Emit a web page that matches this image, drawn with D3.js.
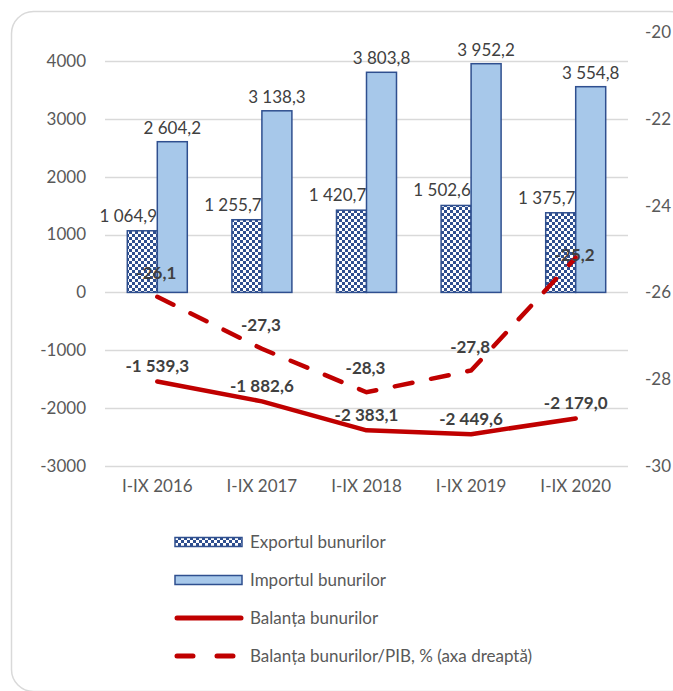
<!DOCTYPE html>
<html>
<head>
<meta charset="utf-8">
<script src="https://cdn.jsdelivr.net/npm/d3@7"></script>
<style>
  body { margin: 0; background: #fff; }
  svg text { font-family: Lato, "Liberation Sans", sans-serif; }
</style>
</head>
<body>
<svg id="chart"></svg>
<script>
// data
const categories = ["I-IX 2016", "I-IX 2017", "I-IX 2018", "I-IX 2019", "I-IX 2020"];
const exportVals = [1064.9, 1255.7, 1420.7, 1502.6, 1375.7];
const importVals = [2604.2, 3138.3, 3803.8, 3952.2, 3554.8];
const balance = [-1539.3, -1882.6, -2383.1, -2449.6, -2179.0];
const balancePib = [-26.1, -27.3, -28.3, -27.8, -25.2];
const leftTicks = [-3000, -2000, -1000, 0, 1000, 2000, 3000, 4000];
const rightTicks = [-30, -28, -26, -24, -22, -20];
const legendNames = ["Exportul bunurilor", "Importul bunurilor", "Balanța bunurilor", "Balanța bunurilor/PIB, % (axa dreaptă)"];

const W = 673, H = 691;
const red = "#c00000", navy = "#2f4f8f", light = "#a7c8ea", txt = "#595959", lbl = "#404040";
const fs = "17px";

const svg = d3.select("#chart").attr("width", W).attr("height", H);

// checker pattern for exports
const defs = svg.append("defs");
const pat = defs.append("pattern").attr("id", "checker")
    .attr("patternUnits", "userSpaceOnUse").attr("width", 6).attr("height", 6);
pat.append("rect").attr("width", 6).attr("height", 6).attr("fill", "#fff");
pat.append("rect").attr("width", 3).attr("height", 3).attr("fill", navy);
pat.append("rect").attr("x", 3).attr("y", 3).attr("width", 3).attr("height", 3).attr("fill", navy);

// outer rounded frame
svg.append("rect")
    .attr("x", 11.5).attr("y", 11.5)
    .attr("width", 680).attr("height", 680)
    .attr("rx", 22)
    .attr("fill", "none").attr("stroke", "#d9d9d9").attr("stroke-width", 1.5);

// scales
let x = d3.scaleBand().domain(categories).range([105, 628]).padding(0);
let y = d3.scaleLinear().domain([-3000, 4500]).range([466, 32]);
let y2 = d3.scaleLinear().domain([-30, -20]).range([466, 32]);
let sub = d3.scaleBand().domain(["exp", "imp"])
    .range([x.bandwidth() / 2 - 30, x.bandwidth() / 2 + 30]).padding(0);

const loc = d3.formatLocale({decimal: ",", thousands: " ", grouping: [3], currency: ["", ""], minus: "-"});
const fmt = loc.format(",.1f");
const fmtTick = loc.format("d");

// gridlines
svg.append("g").selectAll("line")
    .data(leftTicks).enter().append("line")
    .attr("x1", 105).attr("x2", 628)
    .attr("y1", d => Math.round(y(d)) + 0.5).attr("y2", d => Math.round(y(d)) + 0.5)
    .attr("stroke", "#d9d9d9").attr("stroke-width", 1.3);

// left axis
let axL = svg.append("g").attr("transform", "translate(105,0)")
    .call(d3.axisLeft(y).tickValues(leftTicks).tickFormat(fmtTick).tickSize(0).tickPadding(19));
axL.select(".domain").remove();
axL.selectAll("text").attr("fill", txt).attr("font-size", fs);

// right axis
let axR = svg.append("g").attr("transform", "translate(628,0)")
    .call(d3.axisRight(y2).tickValues(rightTicks).tickFormat(fmtTick).tickSize(0).tickPadding(17));
axR.select(".domain").remove();
axR.selectAll("text").attr("fill", txt).attr("font-size", fs);

// x axis labels
let axB = svg.append("g").attr("transform", "translate(0,466)")
    .call(d3.axisBottom(x).tickSize(0).tickPadding(14));
axB.select(".domain").remove();
axB.selectAll("text").attr("fill", txt).attr("font-size", fs);

// bars
const bars = svg.append("g");
bars.selectAll(".exp").data(exportVals).enter().append("rect")
    .attr("x", (d, i) => x(categories[i]) + sub("exp"))
    .attr("width", sub.bandwidth())
    .attr("y", d => y(d)).attr("height", d => y(0) - y(d))
    .attr("fill", "url(#checker)").attr("stroke", navy).attr("stroke-width", 1.5);
bars.selectAll(".imp").data(importVals).enter().append("rect")
    .attr("x", (d, i) => x(categories[i]) + sub("imp"))
    .attr("width", sub.bandwidth())
    .attr("y", d => y(d)).attr("height", d => y(0) - y(d))
    .attr("fill", light).attr("stroke", navy).attr("stroke-width", 1.5);

// bar labels
const cx = c => x(c) + x.bandwidth() / 2;
svg.append("g").selectAll("text").data(exportVals).enter().append("text")
    .text(d => fmt(d))
    .attr("x", (d, i) => x(categories[i]) + sub("exp") + sub.bandwidth() / 2 - 14)
    .attr("y", d => y(d) - 9)
    .attr("text-anchor", "middle").attr("font-size", fs).attr("fill", lbl);
svg.append("g").selectAll("text").data(importVals).enter().append("text")
    .text(d => fmt(d))
    .attr("x", (d, i) => x(categories[i]) + sub("imp") + sub.bandwidth() / 2)
    .attr("y", d => y(d) - 8)
    .attr("text-anchor", "middle").attr("font-size", fs).attr("fill", lbl);

// balance line
const line1 = d3.line().x((d, i) => cx(categories[i])).y(d => y(d));
svg.append("path").datum(balance)
    .attr("d", line1).attr("fill", "none")
    .attr("stroke", red).attr("stroke-width", 4.5).attr("stroke-linejoin", "round").attr("stroke-linecap", "round");

// balance / PIB dashed line (right axis)
const line2 = d3.line().x((d, i) => cx(categories[i])).y(d => y2(d));
svg.append("path").datum(balancePib)
    .attr("d", line2).attr("fill", "none")
    .attr("stroke", red).attr("stroke-width", 4.5)
    .attr("stroke-dasharray", "18,19").attr("stroke-linecap", "round");

// line labels
svg.append("g").selectAll("text").data(balance).enter().append("text")
    .text(d => fmt(d))
    .attr("x", (d, i) => cx(categories[i]))
    .attr("y", d => y(d) - 9)
    .attr("text-anchor", "middle").attr("font-size", fs).attr("font-weight", "bold").attr("fill", lbl);
svg.append("g").selectAll("text").data(balancePib).enter().append("text")
    .text(d => fmt(d))
    .attr("x", (d, i) => cx(categories[i]) - 1)
    .attr("y", (d, i) => y2(d) - (i === balancePib.length - 1 ? -3 : 18))
    .attr("text-anchor", "middle").attr("font-size", fs).attr("font-weight", "bold").attr("fill", lbl);

// legend
const lg = svg.append("g").attr("transform", "translate(175,0)");
const rowY = [542, 580, 618, 656];
lg.append("rect").attr("x", 0).attr("y", rowY[0] - 4.5).attr("width", 67).attr("height", 9)
    .attr("fill", "url(#checker)").attr("stroke", navy).attr("stroke-width", 1.5);
lg.append("rect").attr("x", 0).attr("y", rowY[1] - 4.5).attr("width", 67).attr("height", 9)
    .attr("fill", light).attr("stroke", navy).attr("stroke-width", 1.5);
lg.append("line").attr("x1", 2).attr("x2", 66).attr("y1", rowY[2]).attr("y2", rowY[2])
    .attr("stroke", red).attr("stroke-width", 5).attr("stroke-linecap", "round");
lg.append("line").attr("x1", 2).attr("x2", 66).attr("y1", rowY[3]).attr("y2", rowY[3])
    .attr("stroke", red).attr("stroke-width", 5).attr("stroke-linecap", "round")
    .attr("stroke-dasharray", "16,24");
lg.selectAll("text").data(legendNames).enter().append("text")
    .text(d => d)
    .attr("x", 75).attr("y", (d, i) => rowY[i])
    .attr("dy", "0.35em").attr("font-size", fs).attr("fill", txt);
</script>
</body>
</html>
